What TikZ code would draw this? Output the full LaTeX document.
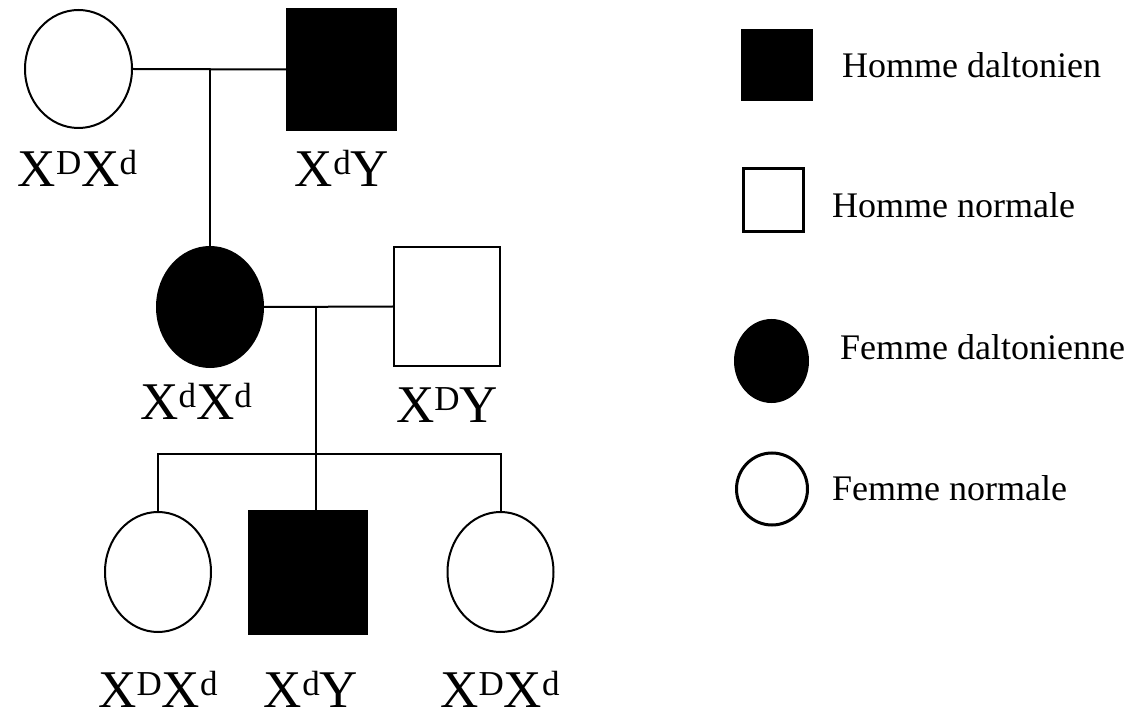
\documentclass[tikz,border=0pt]{standalone}
\usepackage{fontspec}
\setmainfont{Liberation Serif}
\usetikzlibrary{shapes.geometric, positioning, calc}

\newcommand{\up}[1]{\raisebox{12pt}{\fontsize{35}{35}\selectfont #1}}

\begin{document}
\begin{tikzpicture}[
  x=1pt, y=-1pt,
  woman/.style={ellipse, draw, line width=2pt, inner sep=0pt, minimum width=106, minimum height=120},
  man/.style={rectangle, draw, line width=2pt, inner sep=0pt},
  sick/.style={fill=black},
  geno/.style={anchor=base, font=\fontsize{53}{60}\selectfont, inner sep=0pt},
  leg/.style={anchor=base west, font=\fontsize{36}{42}\selectfont, inner sep=0pt},
  link/.style={line width=2pt}
]
  \useasboundingbox (0,0) rectangle (1136,711);

  % grandparents
  \node[woman, minimum width=107, minimum height=118] (gm) at (78.5,69) {};
  \node[man, sick, minimum width=109, minimum height=121] (gf) at (341.5,69.5) {};
  \node[geno] (gmlab) at (77.5,187) {X\up{D}X\up{d}};
  \node[geno] (gflab) at (342,187) {X\up{d}Y};

  % parents
  \node[woman, sick] (mo) at (210,307) {};
  \node[man, minimum width=106, minimum height=119] (fa) at (447,306.5) {};
  \node[geno] (molab) at (196,420) {X\up{d}X\up{d}};
  \node[geno] (falab) at (447,422) {X\up{D}Y};

  % children
  \node[woman] (d1) at (158,572) {};
  \node[man, sick, minimum width=118, minimum height=123] (s1) at (308,572.5) {};
  \node[woman] (d2) at (500.5,572) {};
  \node[geno] (d1lab) at (158,707) {X\up{D}X\up{d}};
  \node[geno] (s1lab) at (311,707) {X\up{d}Y};
  \node[geno] (d2lab) at (500,707) {X\up{D}X\up{d}};

  % connectors
  \coordinate (m1) at (mo.north |- gm.east);
  \coordinate (m2) at (316,307);
  \coordinate (sib) at (316,454);
  \draw[link] (gm.east) -- (gf.west);
  \draw[link] (m1) -- (mo.north);
  \draw[link] (mo.east) -- (fa.west);
  \draw[link] (m2) -- (sib) -- (s1.north -| sib);
  \draw[link] (d1.north) |- (sib) -| (d2.north);

  % legend
  \node[man, sick, minimum width=70, minimum height=70] (k1) at (777,65) {};
  \node[man, line width=3pt, minimum width=60, minimum height=63] (k2) at (773,200.5) {};
  \node[woman, sick, minimum width=73, minimum height=82] (k3) at (771.5,361) {};
  \node[woman, line width=3pt, minimum width=71, minimum height=72] (k4) at (772,489) {};
  \node[leg] (t1) at (842,78) {Homme daltonien};
  \node[leg] (t2) at (832,218) {Homme normale};
  \node[leg] (t3) at (840,360) {Femme daltonienne};
  \node[leg] (t4) at (832,500) {Femme normale};
\end{tikzpicture}
\end{document}
